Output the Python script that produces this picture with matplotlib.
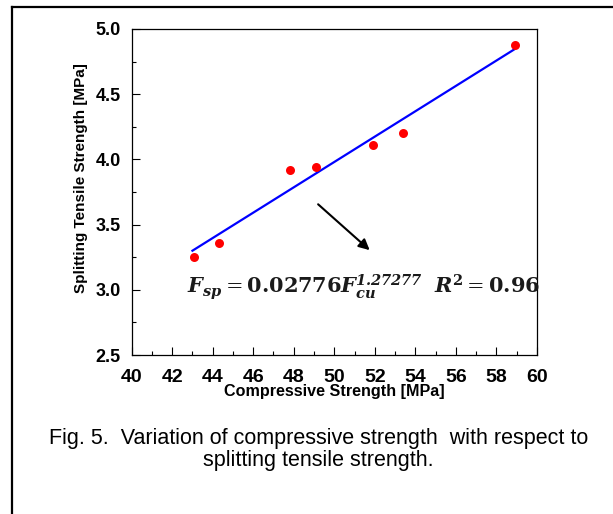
import matplotlib

matplotlib.use("Agg")
import matplotlib.pyplot as plt
from matplotlib.lines import Line2D
from matplotlib.ticker import MultipleLocator

plt.rcParams["font.family"] = ["Liberation Sans", "DejaVu Sans"]
plt.rcParams["mathtext.fontset"] = "dejavuserif"

# Measured points (compressive vs splitting tensile strength)
compressive = [43.1, 44.3, 47.8, 49.1, 51.9, 53.4, 58.9]
splitting = [3.25, 3.36, 3.92, 3.94, 4.11, 4.20, 4.88]

# Trend line end points as drawn in the figure
fit_x = [43.0, 58.9]
fit_y = [3.30, 4.845]

# Arrow pointing from the line towards the equation
arrow_start = (49.1, 3.67)
arrow_end = (51.85, 3.29)

x_ticks = [40, 42, 44, 46, 48, 50, 52, 54, 56, 58, 60]
y_ticks = [2.5, 3.0, 3.5, 4.0, 4.5, 5.0]

equation = (r"$\mathbfit{F}_{\mathbfit{sp}} = \mathbf{0.02776}"
            r"\mathbfit{F}_{\mathbfit{cu}}^{\mathbfit{1.27277}}\ \ "
            r"\mathbfit{R}^{\mathbf{2}} = \mathbf{0.96}$")
caption = "Fig. 5.  Variation of compressive strength  with respect to\nsplitting tensile strength."

fig = plt.figure(figsize=(6.13, 5.14), dpi=100)
ax = fig.add_axes([0.2148, 0.3093, 0.661, 0.6343])

ax.plot(fit_x, fit_y, color="blue", lw=1.6, zorder=2)
ax.scatter(compressive, splitting, s=42, color="red", zorder=3, linewidths=0)

ax.annotate(
    "",
    xy=arrow_end,
    xytext=arrow_start,
    arrowprops=dict(arrowstyle="-|>", color="black", lw=1.5, mutation_scale=16),
)
ax.text(42.75, 3.02, equation, fontsize=15, color="#1a1a1a", va="center", ha="left")

ax.set_xlim(40, 60)
ax.set_ylim(2.5, 5.0)
ax.set_xticks(x_ticks)
ax.set_yticks(y_ticks)
ax.set_yticklabels(["%.1f" % v for v in y_ticks])
ax.xaxis.set_minor_locator(MultipleLocator(1))
ax.yaxis.set_minor_locator(MultipleLocator(0.25))
ax.tick_params(which="both", direction="in", top=False, right=False)
ax.tick_params(which="major", length=6, width=0.8)
ax.tick_params(which="minor", length=3, width=0.8)
ax.tick_params(axis="x", which="major", pad=10, labelsize=14)
ax.tick_params(axis="y", which="major", pad=8, labelsize=13)
for lab in ax.get_xticklabels() + ax.get_yticklabels():
    lab.set_fontweight("bold")
for sp in ax.spines.values():
    sp.set_linewidth(0.9)

ax.set_xlabel("Compressive Strength [MPa]", fontsize=11.6, fontweight="bold")
ax.xaxis.set_label_coords(0.5, -0.09)
ax.set_ylabel("Splitting Tensile Strength [MPa]", fontsize=11, fontweight="bold")
ax.yaxis.set_label_coords(-0.108, 0.543)

fig.text(0.520, 0.1255, caption, ha="center", va="center", fontsize=15.5,
         linespacing=1.1)

# Frame around the figure (left and top edges)
fig.add_artist(Line2D([12 / 613, 12 / 613], [0, 1 - 7 / 514], transform=fig.transFigure,
                      color="black", lw=1.6))
fig.add_artist(Line2D([12 / 613, 1], [1 - 7 / 514, 1 - 7 / 514], transform=fig.transFigure,
                      color="black", lw=1.6))

fig.savefig("out.png", dpi=100)
